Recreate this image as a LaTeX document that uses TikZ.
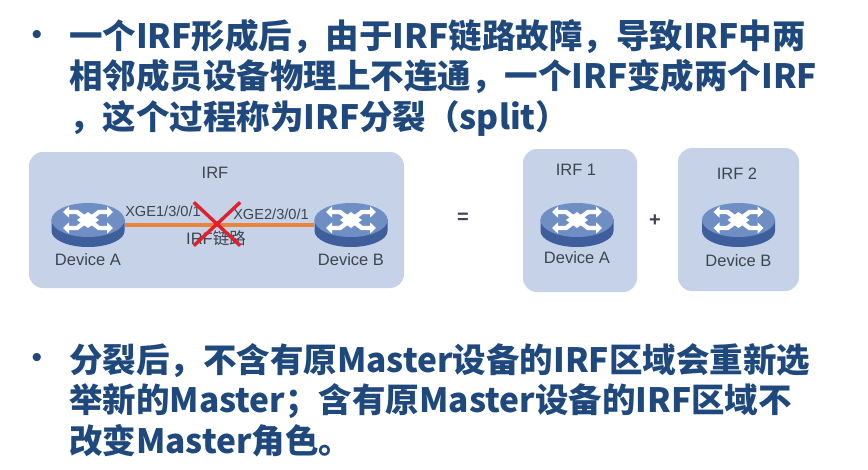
\documentclass[tikz,border=0pt]{standalone}
\usepackage{fontspec}
\setmainfont{Liberation Sans}
\newfontfamily\cjk{Noto Sans CJK SC}
\usetikzlibrary{positioning,shapes.geometric,shapes.misc,arrows.meta}

\definecolor{headblue}{HTML}{1F497D}
\definecolor{panelblue}{HTML}{C5D2E8}
\definecolor{linkorange}{HTML}{E8853A}
\definecolor{labelgray}{HTML}{3E4550}
\definecolor{routertop}{HTML}{6F8FC4}
\definecolor{routerside}{HTML}{3E5E9C}
\definecolor{cutred}{HTML}{E2202C}

\tikzset{
  panel/.style={draw=none,fill=panelblue,rounded corners=14pt},
  bullet/.style={text=headblue,font=\fontsize{30}{30}\selectfont},
  headline/.style={anchor=north west,align=left,inner sep=0pt,text=headblue,
    font=\cjk\bfseries\fontsize{33.5}{40.5}\selectfont},
  devlabel/.style={text=labelgray,font=\fontsize{16.5}{18}\selectfont,inner sep=0pt},
  portlabel/.style={text=labelgray,font=\fontsize{14.6}{16}\selectfont,inner sep=0pt},
  signlabel/.style={text=labelgray,font=\bfseries\fontsize{20}{20}\selectfont,inner sep=0pt},
  routernode/.style={ellipse,minimum width=73pt,minimum height=44pt,inner sep=0pt},
  pics/routericon/.style={code={
    \fill[routerside] (-36.5,-6) -- (-36.5,6) arc[start angle=180,end angle=0,x radius=36.5,y radius=16] -- (36.5,-6) -- cycle;
    \fill[routertop] (0,-5) ellipse[x radius=36.5,y radius=17];
    \fill[white] (0,-13) -- (11,-5) -- (0,3) -- (-11,-5) -- cycle;
    \foreach \sx in {-1,1}{
      \foreach \sy in {-1,1}{
        \draw[white,line width=4.4pt,-{Triangle[length=6pt,width=11pt]}]
          (3*\sx,{-5+2*\sy}) -- (11*\sx,{-5+8*\sy}) -- (25*\sx,{-5+8*\sy});
      }
    }
  }}
}

\begin{document}
\begin{tikzpicture}[x=1pt,y=-1pt,node distance=36pt,on grid]
\useasboundingbox (0,0) rectangle (868,469);

% panels
\node[panel,minimum width=375pt,minimum height=136pt] (panelirf) at (216.5,220) {};
\node[panel,minimum width=114pt,minimum height=143pt] (panelone) at (580,220.5) {};
\node[panel,minimum width=121pt,minimum height=143pt] (paneltwo) at (738.5,219.5) {};

% routers
\node[routernode] (deva) at (88,225) {};
\node[routernode] (devb) [right=263pt of deva] {};
\node[routernode] (devaone) at (577,225) {};
\node[routernode] (devbtwo) at (738.5,225) {};
\foreach \dev in {deva,devb,devaone,devbtwo}
  \pic at (\dev) {routericon};

% link
\draw[linkorange,line width=3.3pt] (deva) -- (devb);

% labels
\node[devlabel] (irflabel) at (215,173) {IRF};
\node[devlabel] (lbla) [below=35pt of deva] {Device A};
\node[devlabel] (lblb) [below=35pt of devb] {Device B};
\node[devlabel] (lbllink) at (216,238) {IRF\cjk 链路};
\node[portlabel] (porta) at (163,211) {XGE1/3/0/1};
\node[portlabel] (portb) at (271,214) {XGE2/3/0/1};
\node[cross out,draw=cutred,line width=3.4pt,minimum width=43pt,minimum height=40pt,inner sep=0pt] (cut) at (217,224) {};

\node[devlabel] (irfone) at (576,170) {IRF 1};
\node[devlabel] (lblaone) [below=33pt of devaone] {Device A};
\node[devlabel] (irftwo) at (737,174) {IRF 2};
\node[devlabel] (lblbtwo) [below=36pt of devbtwo] {Device B};
\node[signlabel] (equals) at (463,218) {=};
\node[signlabel] (plus) at (655,221) {+};

% text
\node[bullet] (dotone) at (37,37) {•};
\node[headline] (textone) at (69,19) {一个IRF形成后，由于IRF链路故障，导致IRF中两\\
相邻成员设备物理上不连通，一个IRF变成两个IRF\\
，这个过程称为IRF分裂（split）};
\node[bullet] (dottwo) at (37,360) {•};
\node[headline] (texttwo) at (69,343) {分裂后，不含有原Master设备的IRF区域会重新选\\
举新的Master；含有原Master设备的IRF区域不\\
改变Master角色。};
\end{tikzpicture}
\end{document}
